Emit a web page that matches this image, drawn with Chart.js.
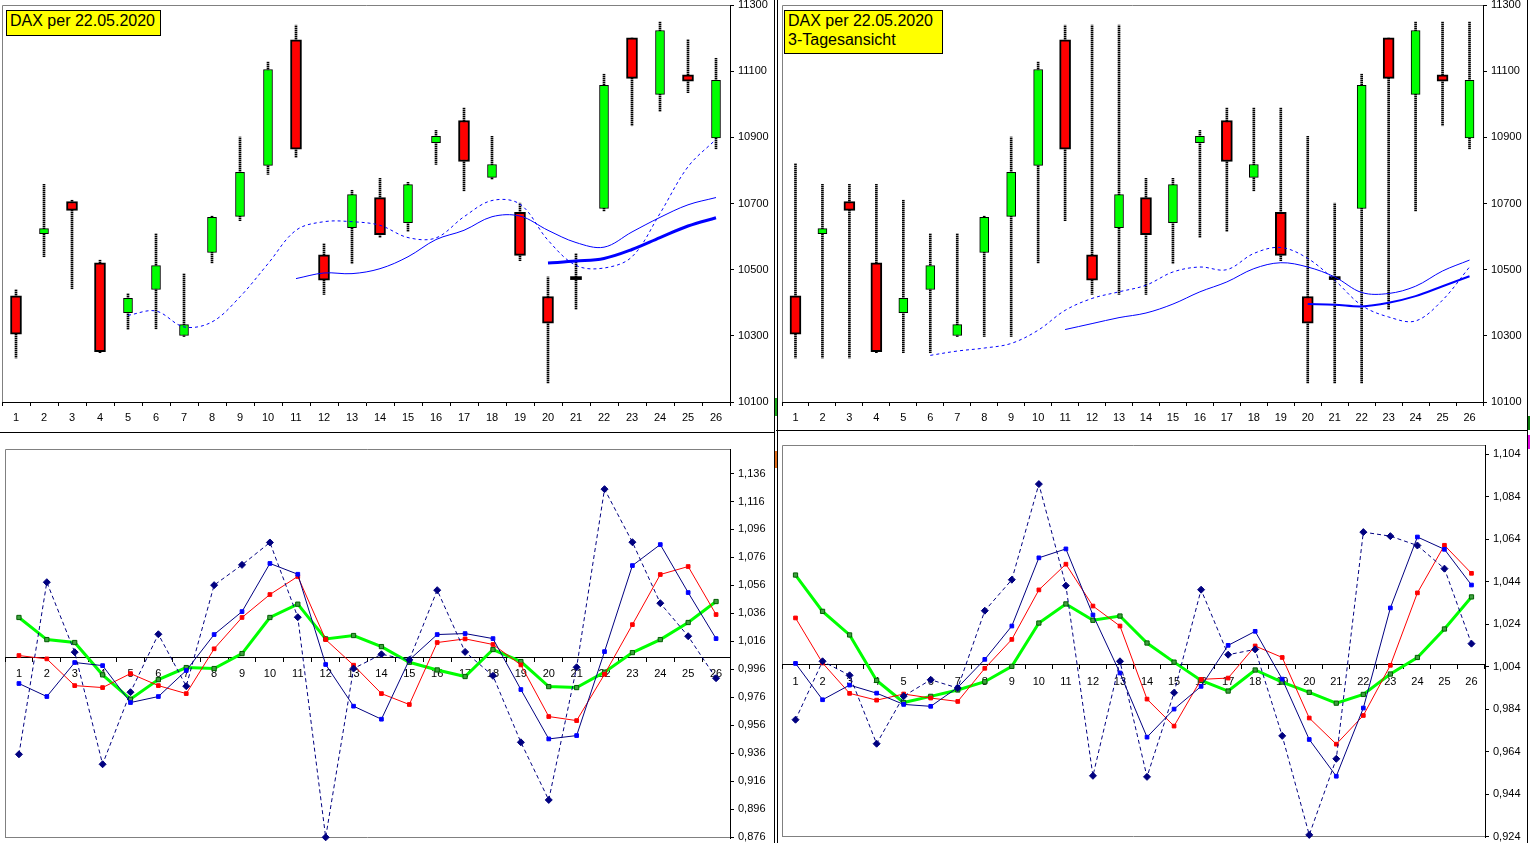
<!DOCTYPE html>
<html>
<head>
<meta charset="utf-8">
<script src="https://cdn.jsdelivr.net/npm/chart.js@4.4.1/dist/chart.umd.min.js"></script>
<style>
  html, body { margin: 0; padding: 0; background: #fff; }
  body { width: 1530px; height: 843px; position: relative; overflow: hidden; font-family: "Liberation Sans", Arial, sans-serif; }
  canvas { position: absolute; }
  .box { position: absolute; box-sizing: border-box; background: #ffff00; border: 1px solid #000; font-size: 16px; color: #000; padding: 0 3px 4px 3px; white-space: nowrap; }
  .ln { position: absolute; background: #000; }
</style>
</head>
<body>
<canvas id="dailyChart" width="775" height="430" style="left:0;top:0"></canvas>
<canvas id="threeDayChart" width="754" height="430" style="left:776px;top:0"></canvas>
<canvas id="ratioLeft" width="775" height="411" style="left:0;top:432px"></canvas>
<canvas id="ratioRight" width="754" height="412" style="left:776px;top:431px"></canvas>

<div class="box" style="left:6px;top:10px;width:155px;line-height:20px">DAX per 22.05.2020</div>
<div class="box" style="left:784px;top:10px;width:159px;line-height:19px">DAX per 22.05.2020<br>3-Tagesansicht</div>

<!-- Rahmen / Fensterkanten -->
<div class="ln" style="left:0;top:432px;width:775px;height:1px"></div>
<div class="ln" style="left:776px;top:430px;width:752px;height:1px"></div>
<div class="ln" style="left:774px;top:0;width:1px;height:843px"></div>
<div class="ln" style="left:777px;top:0;width:1px;height:843px"></div>
<div class="ln" style="left:1527px;top:0;width:1px;height:843px"></div>
<div class="ln" style="left:775px;top:398px;width:2px;height:18px;background:#1faa1f"></div>
<div class="ln" style="left:775px;top:451px;width:2px;height:17px;background:#e07020"></div>
<div class="ln" style="left:1528px;top:416px;width:2px;height:14px;background:#0a7a0a"></div>
<div class="ln" style="left:1528px;top:435px;width:2px;height:14px;background:#e000e0"></div>

<script>
// Kategorien (Handelstage)
const LABELS = ['1','2','3','4','5','6','7','8','9','10','11','12','13','14','15','16','17','18','19','20','21','22','23','24','25','26'];

// Kerzen (Tagesansicht)
const OPEN  = [10421,10609,10706,10521,10370,10440,10301,10552,10661,10815,11195,10545,10627,10718,10642,10884,10951,10779,10673,10419,10470,10685,11201,11030,11089,10898];
const CLOSE = [10305,10624,10679,10252,10413,10512,10334,10658,10794,11105,10864,10468,10727,10606,10757,10903,10827,10818,10543,10338,10470,11057,11078,11223,11070,11072];
const HIGH  = [10440,10758,10710,10529,10428,10609,10488,10662,10901,11128,11239,10579,10740,10776,10764,10921,10989,10903,10701,10478,10549,11091,11201,11249,11196,11139];
const LOW   = [10233,10539,10442,10249,10319,10321,10298,10520,10648,10788,10839,10425,10518,10597,10615,10818,10738,10773,10527,10157,10380,10677,10935,10978,11035,10865];

// 3-Tagesansicht: Hoch/Tief
const HIGH_3D = [10821,10758,10758,10758,10710,10609,10609,10662,10901,11128,11239,11239,11239,10776,10776,10921,10989,10989,10989,10903,10701,11091,11201,11249,11249,11249];
const LOW_3D  = [10233,10233,10233,10249,10249,10249,10298,10298,10298,10520,10648,10425,10425,10425,10518,10597,10615,10738,10527,10157,10157,10157,10380,10677,10935,10865];

// Durchschnittslinien Tagesansicht
const MA_DASH_D  = [null,null,null,null,10362,10375,10327,10342,10418,10518,10619,10645,10645,10634,10597,10596,10660,10709,10698,10589,10513,10505,10539,10670,10811,10894];
const MA_THIN_D  = [null,null,null,null,null,null,null,null,null,null,10473,10490,10488,10503,10539,10591,10619,10660,10662,10619,10582,10568,10614,10658,10696,10718];
const MA_THICK_D = [null,null,null,null,null,null,null,null,null,null,null,null,null,null,null,null,null,null,null,10520,10526,10534,10561,10597,10632,10657];

// Durchschnittslinien 3-Tagesansicht
const MA_DASH_3  = [null,null,null,null,null,10241,10254,10263,10277,10317,10377,10413,10433,10453,10493,10508,10500,10549,10567,10534,10468,10392,10357,10345,10408,10508];
const MA_THIN_3  = [null,null,null,null,null,null,null,null,null,null,10319,10337,10355,10369,10396,10433,10463,10503,10521,10508,10478,10431,10428,10450,10496,10529];
const MA_THICK_3 = [null,null,null,null,null,null,null,null,null,null,null,null,null,null,null,null,null,null,null,10396,10394,10389,10400,10420,10450,10480];

// Verhältnis-Diagramme (unten)
const DIA_L   = [0.9353,1.0583,1.0083,0.9282,0.9797,1.0211,0.9840,1.0562,1.0707,1.0867,1.0333,0.8760,0.9966,1.0068,1.0028,1.0526,1.0085,0.9914,0.9439,0.9027,0.9975,1.1248,1.0869,1.0433,1.0197,0.9897];
const BLUE_L  = [0.9859,0.9766,1.0009,0.9987,0.9723,0.9766,0.9952,1.0209,1.0373,1.0717,1.0640,0.9995,0.9697,0.9604,1.0028,1.0209,1.0216,1.0180,0.9816,0.9463,0.9487,1.0087,1.0702,1.0852,1.0509,1.0180];
const RED_L   = [1.0059,1.0035,0.9844,0.9830,0.9930,0.9844,0.9787,1.0107,1.0331,1.0495,1.0624,1.0173,0.9990,0.9787,0.9709,1.0152,1.0178,1.0138,0.9992,0.9623,0.9594,0.9925,1.0280,1.0638,1.0695,1.0352];
const GREEN_L = [1.0331,1.0173,1.0152,0.9921,0.9747,0.9887,0.9973,0.9966,1.0073,1.0331,1.0426,1.0178,1.0202,1.0123,1.0011,0.9956,0.9909,1.0102,1.0016,0.9837,0.9830,0.9940,1.0080,1.0173,1.0295,1.0445];

const DIA_R   = [0.9790,1.0065,0.9999,0.9677,0.9901,0.9978,0.9939,1.0303,1.0449,1.0899,1.0421,0.9526,1.0065,0.9521,0.9917,1.0402,1.0096,1.0121,0.9714,0.9248,0.9606,1.0673,1.0654,1.0610,1.0501,1.0148];
const BLUE_R  = [1.0055,0.9884,0.9953,0.9915,0.9862,0.9853,0.9942,1.0074,1.0231,1.0552,1.0594,1.0283,1.0010,0.9708,0.9840,0.9947,1.0140,1.0206,0.9981,0.9697,0.9524,0.9845,1.0316,1.0650,1.0592,1.0424];
const RED_R   = [1.0269,1.0057,0.9914,0.9882,0.9911,0.9892,0.9876,1.0032,1.0168,1.0401,1.0522,1.0325,1.0231,0.9887,0.9760,0.9980,0.9986,1.0137,1.0083,0.9798,0.9675,0.9810,1.0046,1.0387,1.0611,1.0479];
const GREEN_R = [1.0471,1.0300,1.0189,0.9975,0.9871,0.9900,0.9930,0.9969,1.0041,1.0245,1.0335,1.0258,1.0278,1.0151,1.0061,0.9975,0.9925,1.0024,0.9967,0.9919,0.9868,0.9909,1.0005,1.0083,1.0217,1.0368];

// Achsen
const RATIO_TICKS_L = [0.876,0.896,0.916,0.936,0.956,0.976,0.996,1.016,1.036,1.056,1.076,1.096,1.116,1.136];
const RATIO_TICKS_R = [0.924,0.944,0.964,0.984,1.004,1.024,1.044,1.064,1.084,1.104];
const AXIS_CROSS = 1.0048;

Chart.defaults.font.family = '"Liberation Sans", Arial, sans-serif';
Chart.defaults.font.size = 11;
Chart.defaults.color = '#000';

// grauer Rahmen der Zeichenfläche
const plotFrame = {
  id: 'plotFrame',
  beforeDraw(chart, args, opts) {
    const { ctx, chartArea: a } = chart;
    ctx.save();
    ctx.strokeStyle = '#808080';
    ctx.lineWidth = 1;
    ctx.beginPath();
    ctx.moveTo(Math.round(a.left) + 0.5, Math.round(a.bottom));
    ctx.lineTo(Math.round(a.left) + 0.5, Math.round(a.top) + 0.5);
    ctx.lineTo(Math.round(a.right), Math.round(a.top) + 0.5);
    if (opts.bottom) {
      ctx.moveTo(Math.round(a.left), Math.round(a.bottom) - 0.5);
      ctx.lineTo(Math.round(a.right), Math.round(a.bottom) - 0.5);
    }
    ctx.stroke();
    ctx.restore();
  }
};

function wickPattern(ctx) {
  const p = document.createElement('canvas');
  p.width = 1; p.height = 2;
  const g = p.getContext('2d');
  g.fillStyle = '#000'; g.fillRect(0, 0, 1, 1);
  g.fillStyle = '#8a8a8a'; g.fillRect(0, 1, 1, 1);
  return ctx.createPattern(p, 'repeat');
}

// Achse rechts: feste Breite, keine automatische Randverschiebung durch Beschriftung
function fixRightAxis(width) {
  return function (s) {
    s.width = width;
    s.paddingTop = 0;
    s.paddingBottom = 0;
  };
}

function candleChart(id, high, low, maDash, maThin, maThick, thickWidth, pad, yWidth) {
  const ctx = document.getElementById(id).getContext('2d');
  const up = OPEN.map((o, i) => CLOSE[i] > o ? [o, CLOSE[i]] : null);
  const down = OPEN.map((o, i) => CLOSE[i] < o ? [CLOSE[i], o] : null);
  const flat = OPEN.map((o, i) => CLOSE[i] === o ? [o, CLOSE[i]] : null);

  return new Chart(ctx, {
    type: 'bar',
    data: {
      labels: LABELS,
      datasets: [
        { type: 'line', data: maThick, borderColor: '#0000ff', borderWidth: thickWidth, pointRadius: 0, tension: 0.35, order: 0 },
        { type: 'line', data: maThin, borderColor: '#0000ff', borderWidth: 1, pointRadius: 0, tension: 0.35, order: 0 },
        { type: 'line', data: maDash, borderColor: '#0000ff', borderWidth: 1, borderDash: [3, 3], pointRadius: 0, tension: 0.35, order: 0 },
        { data: up, backgroundColor: '#00ff00', borderColor: '#000', borderWidth: 1, borderSkipped: false, barThickness: 9, grouped: false, order: 1 },
        { data: down, backgroundColor: '#ff0000', borderColor: '#000', borderWidth: 2, borderSkipped: false, barThickness: 11, grouped: false, order: 1 },
        { data: flat, backgroundColor: '#000', borderWidth: 0, minBarLength: 3, barThickness: 11, grouped: false, order: 1 },
        { data: low.map((l, i) => [l, high[i]]), backgroundColor: wickPattern(ctx), borderWidth: 0, barThickness: 2, grouped: false, order: 2 }
      ]
    },
    options: {
      responsive: false,
      animation: false,
      events: [],
      layout: { padding: pad },
      plugins: { legend: { display: false }, tooltip: { enabled: false }, plotFrame: { bottom: false } },
      scales: {
        x: {
          offset: true,
          grid: { offset: true, drawOnChartArea: false, tickLength: 4, color: '#000' },
          border: { color: '#000' },
          ticks: { padding: 5, autoSkip: false, maxRotation: 0 },
          afterFit(s) { s.height = 28; }
        },
        y: {
          position: 'right',
          min: 10100, max: 11300,
          ticks: { stepSize: 200, padding: 4, callback: v => String(v) },
          grid: { drawOnChartArea: false, tickLength: 4, color: '#000' },
          border: { color: '#000' },
          afterFit: fixRightAxis(yWidth)
        }
      }
    },
    plugins: [plotFrame]
  });
}

function ratioChart(id, dia, blue, red, green, ticks, yMin, yMax, pad) {
  const ctx = document.getElementById(id).getContext('2d');
  return new Chart(ctx, {
    type: 'line',
    data: {
      labels: LABELS,
      datasets: [
        { data: dia, borderColor: '#000080', borderWidth: 1, borderDash: [4, 3], pointStyle: 'rectRot', pointRadius: 3.5, pointBackgroundColor: '#000080', pointBorderColor: '#000080', clip: false },
        { data: blue, borderColor: '#000080', borderWidth: 1, pointStyle: 'rect', pointRadius: 2.6, pointBackgroundColor: '#0000ff', pointBorderColor: '#0000ff', clip: false },
        { data: red, borderColor: '#ff0000', borderWidth: 1, pointStyle: 'rect', pointRadius: 2.6, pointBackgroundColor: '#ff0000', pointBorderColor: '#ff0000', clip: false },
        { data: green, borderColor: '#00ff00', borderWidth: 3, pointStyle: 'rect', pointRadius: 3, pointBackgroundColor: '#40a040', pointBorderColor: '#006000', pointBorderWidth: 1, clip: false }
      ]
    },
    options: {
      responsive: false,
      animation: false,
      events: [],
      layout: { padding: pad },
      plugins: { legend: { display: false }, tooltip: { enabled: false }, plotFrame: { bottom: true } },
      scales: {
        x: {
          offset: true,
          position: { y: AXIS_CROSS },
          grid: { offset: true, drawOnChartArea: false, tickLength: 4, color: '#000' },
          border: { color: '#000' },
          ticks: { padding: 6, autoSkip: false, maxRotation: 0 }
        },
        y: {
          position: 'right',
          min: yMin, max: yMax,
          afterBuildTicks(s) { s.ticks = ticks.map(v => ({ value: v })); },
          ticks: { padding: 4, callback: v => v.toFixed(3).replace('.', ',') },
          grid: { drawOnChartArea: false, tickLength: 4, color: '#000' },
          border: { color: '#000' },
          afterFit: fixRightAxis(45)
        }
      }
    },
    plugins: [plotFrame]
  });
}

candleChart('dailyChart', HIGH, LOW, MA_DASH_D, MA_THIN_D, MA_THICK_D, 3, { left: 2, top: 5, right: 0, bottom: 0 }, 45);
candleChart('threeDayChart', HIGH_3D, LOW_3D, MA_DASH_3, MA_THIN_3, MA_THICK_3, 2, { left: 6, top: 5, right: 0, bottom: 0 }, 47);
ratioChart('ratioLeft', DIA_L, BLUE_L, RED_L, GREEN_L, RATIO_TICKS_L, 0.8755, 1.1535, { left: 1, top: 17, right: 0, bottom: 5 });
ratioChart('ratioRight', DIA_R, BLUE_R, RED_R, GREEN_R, RATIO_TICKS_R, 0.9238, 1.1083, { left: 6, top: 14, right: 0, bottom: 6 });
</script>
</body>
</html>
